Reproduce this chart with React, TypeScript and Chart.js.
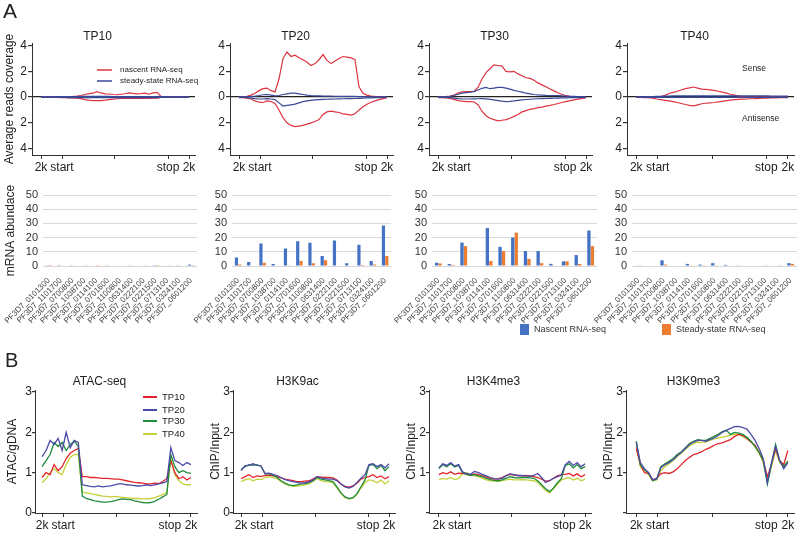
import React, { useEffect, useRef } from 'react';
import { Chart, registerables } from 'chart.js';

Chart.register(...registerables);

const FONT = 'Arial, "Liberation Sans", Helvetica, sans-serif';
Chart.defaults.font.family = FONT;
Chart.defaults.color = '#222';

// ---------------- shared axis values ----------------
const X_POS = [0, 4, 8, 12, 16, 20, 24, 28, 32, 36, 40, 44, 48, 52, 56, 60, 64, 68, 72, 76, 80, 84, 88, 92, 96, 100, 104, 108, 112, 116, 120, 124, 128, 132, 136, 140, 144, 148];
const X_TICKS = [0, 21, 74, 127, 148];
const X_TICK_LABELS = ['2k', 'start', '', 'stop', '2k'];
const COVERAGE_Y_TICKS = [-4, -2, 0, 2, 4];
const CHIP_Y_TICKS = [0, 1, 2, 3];

// ---------------- A: average reads coverage (sense > 0, antisense < 0) ----------------
const TP10_NASCENT_SENSE = [0, 0, 0, 0, 0.01, 0.02, 0.02, 0.03, 0.05, 0.08, 0.12, 0.2, 0.27, 0.3, 0.42, 0.32, 0.25, 0.24, 0.2, 0.18, 0.22, 0.26, 0.32, 0.28, 0.25, 0.27, 0.3, 0.22, 0.32, 0.37, 0.05, 0.01, 0.01, 0, 0, 0, 0, 0];
const TP10_NASCENT_ANTI = [-0.01, -0.01, -0.01, -0.02, -0.03, -0.04, -0.05, -0.06, -0.07, -0.08, -0.12, -0.2, -0.24, -0.27, -0.28, -0.27, -0.24, -0.2, -0.16, -0.13, -0.11, -0.1, -0.1, -0.1, -0.1, -0.1, -0.1, -0.1, -0.09, -0.08, -0.03, -0.02, -0.01, -0.01, -0.01, -0.01, -0.01, -0.01];
const TP10_STEADY_SENSE = [0.02, 0.02, 0.02, 0.02, 0.03, 0.03, 0.03, 0.04, 0.04, 0.04, 0.05, 0.05, 0.05, 0.05, 0.05, 0.05, 0.05, 0.05, 0.04, 0.04, 0.04, 0.04, 0.04, 0.04, 0.04, 0.04, 0.04, 0.04, 0.04, 0.04, 0.03, 0.03, 0.02, 0.02, 0.02, 0.02, 0.02, 0.02];
const TP10_STEADY_ANTI = [-0.02, -0.02, -0.02, -0.02, -0.03, -0.03, -0.03, -0.04, -0.04, -0.04, -0.05, -0.05, -0.05, -0.05, -0.05, -0.05, -0.05, -0.05, -0.04, -0.04, -0.04, -0.04, -0.04, -0.04, -0.04, -0.04, -0.04, -0.04, -0.04, -0.04, -0.03, -0.03, -0.02, -0.02, -0.02, -0.02, -0.02, -0.02];

const TP20_NASCENT_SENSE = [0.02, 0.03, 0.05, 0.15, 0.3, 0.5, 0.65, 0.7, 0.5, 0.4, 1.4, 3.0, 3.5, 3.15, 3.25, 3.05, 2.9, 2.7, 2.45, 2.6, 2.9, 3.3, 2.85, 2.6, 2.8, 3.0, 3.15, 3.1, 3.05, 2.9, 0.8, 0.3, 0.15, 0.08, 0.05, 0.03, 0.02, 0.02];
const TP20_NASCENT_ANTI = [-0.05, -0.05, -0.08, -0.15, -0.3, -0.4, -0.42, -0.3, -0.35, -0.5, -1.0, -1.6, -2.0, -2.2, -2.3, -2.25, -2.2, -2.1, -2.0, -1.9, -1.75, -1.35, -1.15, -1.1, -1.15, -1.2, -1.3, -1.35, -1.4, -1.3, -1.0, -0.75, -0.55, -0.4, -0.3, -0.2, -0.12, -0.05];
const TP20_STEADY_SENSE = [0.02, 0.02, 0.03, 0.05, 0.08, 0.12, 0.18, 0.2, 0.15, 0.1, 0.12, 0.2, 0.25, 0.3, 0.3, 0.25, 0.2, 0.15, 0.12, 0.1, 0.1, 0.08, 0.08, 0.07, 0.06, 0.06, 0.05, 0.05, 0.05, 0.05, 0.04, 0.03, 0.03, 0.02, 0.02, 0.02, 0.02, 0.02];
const TP20_STEADY_ANTI = [-0.03, -0.03, -0.04, -0.08, -0.12, -0.15, -0.15, -0.12, -0.15, -0.2, -0.45, -0.7, -0.65, -0.6, -0.55, -0.45, -0.35, -0.3, -0.25, -0.22, -0.2, -0.18, -0.17, -0.16, -0.15, -0.14, -0.13, -0.12, -0.12, -0.11, -0.1, -0.08, -0.07, -0.06, -0.05, -0.04, -0.03, -0.03];

const TP30_NASCENT_SENSE = [0.02, 0.02, 0.03, 0.08, 0.15, 0.32, 0.4, 0.42, 0.43, 0.45, 0.75, 1.4, 1.9, 2.2, 2.5, 2.45, 2.4, 2.0, 1.95, 2.0, 1.8, 1.65, 1.5, 1.45, 1.3, 1.1, 0.95, 0.8, 0.62, 0.48, 0.33, 0.2, 0.12, 0.06, 0.04, 0.03, 0.02, 0.02];
const TP30_NASCENT_ANTI = [-0.04, -0.05, -0.06, -0.1, -0.18, -0.27, -0.32, -0.35, -0.35, -0.38, -0.6, -1.1, -1.45, -1.65, -1.75, -1.85, -1.8, -1.75, -1.65, -1.5, -1.35, -1.15, -1.05, -0.95, -0.9, -0.82, -0.78, -0.7, -0.65, -0.58, -0.5, -0.42, -0.35, -0.28, -0.22, -0.16, -0.1, -0.06];
const TP30_STEADY_SENSE = [0.01, 0.02, 0.03, 0.06, 0.12, 0.22, 0.3, 0.35, 0.38, 0.42, 0.55, 0.68, 0.75, 0.65, 0.7, 0.75, 0.75, 0.7, 0.62, 0.52, 0.45, 0.38, 0.3, 0.25, 0.2, 0.17, 0.15, 0.13, 0.12, 0.12, 0.11, 0.1, 0.08, 0.06, 0.05, 0.04, 0.03, 0.02];
const TP30_STEADY_ANTI = [-0.02, -0.02, -0.03, -0.05, -0.08, -0.12, -0.15, -0.15, -0.15, -0.14, -0.13, -0.12, -0.14, -0.18, -0.22, -0.27, -0.32, -0.35, -0.33, -0.3, -0.26, -0.22, -0.19, -0.17, -0.15, -0.13, -0.12, -0.11, -0.1, -0.09, -0.08, -0.07, -0.06, -0.05, -0.05, -0.04, -0.03, -0.03];

const TP40_NASCENT_SENSE = [0, 0, 0, 0, 0, 0.01, 0.04, 0.13, 0.28, 0.37, 0.45, 0.55, 0.65, 0.72, 0.78, 0.7, 0.62, 0.6, 0.56, 0.52, 0.45, 0.38, 0.3, 0.22, 0.15, 0.08, 0.04, 0.02, 0.01, 0.01, 0.01, 0.01, 0.01, 0.01, 0.01, 0.01, 0.01, 0.01];
const TP40_NASCENT_ANTI = [-0.03, -0.03, -0.04, -0.05, -0.08, -0.15, -0.2, -0.25, -0.3, -0.36, -0.42, -0.5, -0.58, -0.65, -0.68, -0.6, -0.52, -0.48, -0.45, -0.42, -0.38, -0.33, -0.28, -0.24, -0.2, -0.18, -0.16, -0.15, -0.13, -0.12, -0.1, -0.09, -0.08, -0.07, -0.06, -0.05, -0.04, -0.04];
const TP40_STEADY_SENSE = [0.02, 0.02, 0.02, 0.03, 0.04, 0.05, 0.06, 0.07, 0.08, 0.09, 0.1, 0.1, 0.1, 0.1, 0.1, 0.1, 0.1, 0.1, 0.1, 0.1, 0.1, 0.1, 0.1, 0.1, 0.1, 0.1, 0.1, 0.1, 0.1, 0.1, 0.09, 0.09, 0.09, 0.08, 0.08, 0.08, 0.08, 0.08];
const TP40_STEADY_ANTI = [-0.02, -0.02, -0.02, -0.02, -0.03, -0.03, -0.03, -0.03, -0.03, -0.03, -0.03, -0.03, -0.03, -0.03, -0.03, -0.03, -0.03, -0.03, -0.03, -0.03, -0.03, -0.03, -0.03, -0.03, -0.03, -0.03, -0.03, -0.03, -0.03, -0.03, -0.03, -0.03, -0.03, -0.03, -0.02, -0.02, -0.02, -0.02];

// ---------------- A: mRNA abundance ----------------
const GENES = ['PF3D7_0101300', 'PF3D7_1101700', 'PF3D7_0700800', 'PF3D7_1038700', 'PF3D7_0114100', 'PF3D7_0701600', 'PF3D7_1100800', 'PF3D7_0631400', 'PF3D7_0222100', 'PF3D7_0221500', 'PF3D7_0713100', 'PF3D7_0324100', 'PF3D7_0601200'];
const BAR_TP10_NASCENT = [0.2, 0.1, 0.5, 0.4, 0.3, 0.5, 0.4, 0.5, 0.4, 0.2, 0.4, 0.5, 1.0];
const BAR_TP10_STEADY = [0.1, 0, 0.3, 0.2, 0.1, 0.3, 0.3, 0.3, 0.2, 0.1, 0.2, 0.3, 0.6];
const BAR_TP20_NASCENT = [6, 2.8, 15.8, 1.4, 12.3, 17.4, 16.3, 7, 18, 2, 15, 3.5, 28.6];
const BAR_TP20_STEADY = [1, 0, 2.3, 0, 0.5, 3.5, 2, 4, 0, 0, 0.7, 1, 7];
const BAR_TP30_NASCENT = [2.3, 1.4, 16.5, 0, 26.7, 13.5, 20, 10.5, 10.5, 1.5, 3.3, 7.7, 25];
const BAR_TP30_STEADY = [1.8, 0.8, 14, 0, 3.5, 10.5, 23.5, 5, 2, 0.5, 3.3, 1.4, 14];
const BAR_TP40_NASCENT = [0.4, 0, 4, 0, 1.5, 1, 2, 0.8, 0.5, 0, 0.3, 0.3, 2];
const BAR_TP40_STEADY = [0.2, 0, 1, 0, 0.5, 0.5, 0.5, 0.3, 0.3, 0, 0.2, 0.2, 1.5];
const ABUNDANCE_STEP = 10;

// ---------------- B: chromatin profiles ----------------
const ATAC_TP10 = [0.88, 1.0, 0.95, 1.2, 1.05, 1.15, 1.35, 1.48, 1.55, 1.6, 0.9, 0.9, 0.88, 0.88, 0.87, 0.86, 0.86, 0.85, 0.84, 0.84, 0.82, 0.8, 0.78, 0.76, 0.75, 0.74, 0.72, 0.72, 0.74, 0.73, 0.78, 0.85, 1.3, 1.0, 0.85, 0.9, 0.82, 0.88];
const ATAC_TP20 = [1.4, 1.55, 1.8, 1.7, 1.85, 1.55, 2.0, 1.62, 1.8, 1.75, 0.7, 0.68, 0.66, 0.65, 0.67, 0.65, 0.66, 0.67, 0.7, 0.72, 0.72, 0.7, 0.69, 0.68, 0.67, 0.68, 0.7, 0.68, 0.7, 0.72, 0.75, 0.78, 1.62, 1.3, 1.25, 1.18, 1.25, 1.2];
const ATAC_TP30 = [1.15, 1.3, 1.45, 1.75, 1.65, 1.75, 1.55, 1.7, 1.78, 1.65, 0.42, 0.36, 0.33, 0.3, 0.29, 0.27, 0.27, 0.28, 0.3, 0.33, 0.35, 0.34, 0.33, 0.3, 0.28, 0.26, 0.25, 0.26, 0.29, 0.34, 0.4, 0.46, 1.45, 1.15, 1.0, 1.05, 1.0, 0.98];
const ATAC_TP40 = [0.75, 0.85, 1.0, 1.1, 1.0, 0.95, 1.2, 1.38, 1.45, 1.45, 0.52, 0.5, 0.48, 0.46, 0.44, 0.42, 0.41, 0.4, 0.41, 0.4, 0.39, 0.38, 0.37, 0.36, 0.36, 0.35, 0.35, 0.36, 0.38, 0.42, 0.46, 0.5, 1.35, 0.95, 0.8, 0.72, 0.7, 0.7];

const H3K9AC_TP10 = [0.85, 0.9, 0.95, 0.88, 0.92, 0.9, 0.93, 0.94, 0.92, 0.9, 0.87, 0.84, 0.82, 0.8, 0.78, 0.78, 0.79, 0.8, 0.84, 0.9, 0.89, 0.88, 0.88, 0.87, 0.82, 0.72, 0.66, 0.64, 0.67, 0.74, 0.84, 0.88, 0.9, 0.95, 0.88, 0.92, 0.85, 0.9];
const H3K9AC_TP20 = [1.05, 1.17, 1.18, 1.22, 1.18, 1.17, 0.98, 0.99, 0.96, 0.93, 0.88, 0.83, 0.8, 0.78, 0.76, 0.74, 0.75, 0.77, 0.82, 0.9, 0.87, 0.85, 0.84, 0.84, 0.8, 0.72, 0.65, 0.62, 0.66, 0.76, 0.86, 0.95, 1.2, 1.22, 1.15, 1.2, 1.12, 1.22];
const H3K9AC_TP30 = [1.08, 1.15, 1.2, 1.18, 1.2, 1.16, 0.97, 0.97, 0.94, 0.88, 0.8, 0.74, 0.7, 0.68, 0.7, 0.72, 0.73, 0.75, 0.8, 0.88, 0.84, 0.82, 0.8, 0.78, 0.65, 0.5, 0.4, 0.36, 0.38, 0.48, 0.65, 0.82, 1.18, 1.2, 1.1, 1.18, 1.05, 1.15];
const H3K9AC_TP40 = [0.78, 0.82, 0.85, 0.8, 0.84, 0.83, 0.88, 0.9, 0.88, 0.85, 0.78, 0.72, 0.68, 0.66, 0.67, 0.68, 0.7, 0.72, 0.78, 0.85, 0.8, 0.78, 0.77, 0.75, 0.62, 0.48, 0.38, 0.35, 0.37, 0.46, 0.62, 0.75, 0.82, 0.8, 0.75, 0.82, 0.72, 0.8];

const H3K4ME3_TP10 = [0.95, 1.0, 0.97, 1.02, 0.96, 0.99, 0.98, 0.96, 0.94, 0.97, 0.95, 0.92, 0.89, 0.86, 0.84, 0.85, 0.88, 0.93, 0.96, 0.94, 0.93, 0.92, 0.93, 0.92, 0.9, 0.88, 0.84, 0.79, 0.8, 0.86, 0.92, 0.95, 0.96, 0.98, 0.92, 0.97, 0.9, 0.95];
const H3K4ME3_TP20 = [1.12, 1.22, 1.18, 1.25, 1.16, 1.2, 1.02, 0.98, 0.96, 1.03, 1.0, 0.96, 0.92, 0.88, 0.85, 0.84, 0.86, 0.92, 0.97, 0.95, 0.93, 0.93, 0.92, 0.91, 0.93, 0.98, 0.88, 0.76, 0.8, 0.86, 0.9, 0.94, 1.2, 1.28, 1.18, 1.25, 1.15, 1.22];
const H3K4ME3_TP30 = [1.1, 1.2, 1.15, 1.22, 1.14, 1.18, 1.0, 0.96, 0.93, 0.95, 0.92, 0.9, 0.86, 0.83, 0.81, 0.8, 0.82, 0.86, 0.9, 0.88, 0.87, 0.88, 0.88, 0.87, 0.86, 0.8, 0.7, 0.6, 0.53, 0.62, 0.75, 0.85, 1.18, 1.22, 1.12, 1.2, 1.1, 1.15];
const H3K4ME3_TP40 = [0.82, 0.86, 0.84, 0.88, 0.83, 0.86, 0.98, 1.0, 0.95, 0.92, 0.9, 0.86, 0.82, 0.8, 0.79, 0.78, 0.8, 0.82, 0.84, 0.82, 0.82, 0.83, 0.82, 0.81, 0.8, 0.76, 0.66, 0.56, 0.5, 0.6, 0.72, 0.82, 0.85, 0.88, 0.82, 0.86, 0.8, 0.84];

const H3K9ME3_TP10 = [1.6, 1.2, 1.0, 0.98, 0.82, 0.86, 0.97, 1.0, 0.98, 1.02, 1.1, 1.2, 1.3, 1.38, 1.45, 1.48, 1.52, 1.58, 1.62, 1.68, 1.72, 1.74, 1.78, 1.82, 1.9, 1.95, 1.92, 1.85, 1.76, 1.68, 1.5, 1.3, 0.9, 1.2, 1.6, 1.3, 1.2, 1.55];
const H3K9ME3_TP20 = [1.75, 1.25, 1.1, 1.0, 0.82, 0.85, 1.12, 1.2, 1.25, 1.32, 1.42, 1.5, 1.6, 1.7, 1.76, 1.8, 1.8, 1.78, 1.82, 1.86, 1.92, 2.0, 2.05, 2.1, 2.14, 2.15, 2.12, 2.08, 1.95, 1.8, 1.6, 1.35, 0.75, 1.25, 1.65, 1.3, 1.1, 1.25];
const H3K9ME3_TP30 = [1.78, 1.2, 1.08, 1.0, 0.8, 0.84, 1.15, 1.22, 1.28, 1.35, 1.45, 1.52, 1.62, 1.72, 1.78, 1.82, 1.8, 1.8, 1.85, 1.9, 1.95, 2.02, 2.05, 1.95, 2.0, 1.98, 1.95, 1.88, 1.78, 1.65, 1.5, 1.3, 0.72, 1.2, 1.7, 1.3, 1.15, 1.28];
const H3K9ME3_TP40 = [1.7, 1.15, 1.05, 0.95, 0.8, 0.82, 1.05, 1.15, 1.22, 1.3, 1.4, 1.48, 1.58, 1.66, 1.72, 1.76, 1.75, 1.76, 1.8, 1.84, 1.86, 1.88, 1.9, 1.93, 1.95, 1.95, 1.9, 1.84, 1.76, 1.64, 1.48, 1.25, 0.8, 1.15, 1.55, 1.25, 1.15, 1.3];

// ---------------- colours ----------------
const NASCENT_RED = '#dc3440';
const STEADY_NAVY = '#3a4898';
const BAR_BLUE = '#4472c4';
const BAR_ORANGE = '#ed7d31';
const C_TP10 = '#e3262d';
const C_TP20 = '#4b4aa6';
const C_TP30 = '#1f8b3c';
const C_TP40 = '#c4d13a';

// ---------------- helpers ----------------
type Note =
  | { kind: 'text'; text: string; x: number; y: number; size: number; color?: string; baseline?: string }
  | { kind: 'line'; x1: number; x2: number; y: number; color: string; width: number }
  | { kind: 'rect'; x: number; y: number; w: number; h: number; color: string };

function notesPlugin(notes: Note[], ox: number, oy: number) {
  return {
    id: 'notes',
    afterDraw(chart: any) {
      const ctx = chart.ctx;
      ctx.save();
      for (const n of notes) {
        if (n.kind === 'text') {
          ctx.font = `${n.size}px ${FONT}`;
          ctx.fillStyle = n.color || '#222';
          ctx.textAlign = 'left';
          ctx.textBaseline = n.baseline || 'middle';
          ctx.fillText(n.text, n.x - ox, n.y - oy);
        } else if (n.kind === 'line') {
          ctx.strokeStyle = n.color;
          ctx.lineWidth = n.width;
          ctx.beginPath();
          ctx.moveTo(n.x1 - ox, n.y - oy);
          ctx.lineTo(n.x2 - ox, n.y - oy);
          ctx.stroke();
        } else {
          ctx.fillStyle = n.color;
          ctx.fillRect(n.x - ox, n.y - oy, n.w, n.h);
        }
      }
      ctx.restore();
    },
  };
}

type Series = { values: number[]; color: string; width: number; order: number };

type ProfileOpts = {
  left: number; top: number; width: number; height: number;
  title: string; titleTop: number; titleBottom: number;
  yTitle?: string; yTitlePad?: number; yAxisW: number; xAxisH: number; padRight: number;
  yTickLen: number; yTickPad: number;
  yMin: number; yMax: number; yTicks: number[]; absLabels?: boolean; hideZero?: boolean; zeroLine?: boolean;
  xMin: number; xMax: number; series: Series[]; notes: Note[];
};

function profileConfig(o: ProfileOpts): any {
  const datasets = o.series.map((s) => ({
    data: X_POS.map((x, i) => ({ x, y: s.values[i] })),
    borderColor: s.color,
    borderWidth: s.width,
    pointRadius: 0,
    fill: false,
    tension: 0,
    order: s.order,
  }));
  return {
    type: 'line',
    data: { datasets },
    options: {
      responsive: false,
      animation: false,
      events: [],
      layout: { padding: { left: 0, right: o.padRight, top: 0, bottom: 0 } },
      plugins: {
        legend: { display: false },
        tooltip: { enabled: false },
        title: {
          display: true,
          text: o.title,
          color: '#222',
          font: { size: 12, weight: 'normal', lineHeight: 1 },
          padding: { top: o.titleTop, bottom: o.titleBottom },
        },
      },
      scales: {
        x: {
          type: 'linear',
          min: o.xMin,
          max: o.xMax,
          afterBuildTicks: (axis: any) => { axis.ticks = X_TICKS.map((v) => ({ value: v })); },
          afterFit: (axis: any) => { axis.height = o.xAxisH; },
          ticks: {
            autoSkip: false, maxRotation: 0, minRotation: 0, padding: 1, color: '#222',
            font: { size: 12 },
            callback: (_v: any, i: number) => X_TICK_LABELS[i],
          },
          grid: { drawOnChartArea: false, drawTicks: true, tickLength: 4, tickColor: '#333' },
          border: { display: true, color: '#333', width: 1 },
        },
        y: {
          min: o.yMin,
          max: o.yMax,
          afterBuildTicks: (axis: any) => { axis.ticks = o.yTicks.map((v) => ({ value: v })); },
          afterFit: (axis: any) => { axis.width = o.yAxisW; },
          ticks: {
            autoSkip: false,
            padding: o.yTickPad, color: '#222', font: { size: 12 },
            callback: (v: any) => (o.absLabels ? String(Math.abs(v)) : o.hideZero && v === 0 ? '' : String(v)),
          },
          grid: {
            drawOnChartArea: !!o.zeroLine,
            drawTicks: true,
            tickLength: o.yTickLen,
            tickColor: '#333',
            lineWidth: 1.2,
            color: (ctx: any) => (o.zeroLine && ctx.tick && ctx.tick.value === 0 ? '#222' : 'rgba(0,0,0,0)'),
          },
          border: { display: true, color: '#333', width: 1 },
          title: o.yTitle
            ? { display: true, text: o.yTitle, color: '#222', font: { size: 12 }, padding: { top: o.yTitlePad || 2, bottom: 0 } }
            : { display: false },
        },
      },
    },
    plugins: [notesPlugin(o.notes, o.left, o.top)],
  };
}

type BarOpts = {
  left: number; top: number; width: number; height: number;
  yAxisW: number; padRight: number; yTitle?: string;
  nascent: number[]; steady: number[]; notes: Note[];
};

function barConfig(o: BarOpts): any {
  return {
    type: 'bar',
    data: {
      labels: GENES,
      datasets: [
        { label: 'Nascent RNA-seq', data: o.nascent, backgroundColor: BAR_BLUE, barPercentage: 0.95, categoryPercentage: 0.55 },
        { label: 'Steady-state RNA-seq', data: o.steady, backgroundColor: BAR_ORANGE, barPercentage: 0.95, categoryPercentage: 0.55 },
      ],
    },
    options: {
      responsive: false,
      animation: false,
      events: [],
      layout: { padding: { left: 0, right: o.padRight, top: 15, bottom: 0 } },
      plugins: { legend: { display: false }, tooltip: { enabled: false }, title: { display: false } },
      scales: {
        x: {
          afterFit: (axis: any) => { axis.height = 74; },
          ticks: { autoSkip: false, minRotation: 45, maxRotation: 45, padding: 2, color: '#444', font: { size: 8 } },
          grid: { display: false },
          border: { display: false },
        },
        y: {
          min: 0,
          max: 50,
          afterFit: (axis: any) => { axis.width = o.yAxisW; },
          ticks: { stepSize: ABUNDANCE_STEP, autoSkip: false, padding: 5, color: '#333', font: { size: 11 } },
          grid: { color: '#d9d9d9', drawTicks: false, lineWidth: 1 },
          border: { display: false },
          title: o.yTitle
            ? { display: true, text: o.yTitle, color: '#222', font: { size: 12 }, padding: { top: 3, bottom: 0 } }
            : { display: false },
        },
      },
    },
    plugins: [notesPlugin(o.notes, o.left, o.top)],
  };
}

function ChartCanvas({ box, make }: { box: { left: number; top: number; width: number; height: number }; make: () => any }) {
  const ref = useRef<HTMLCanvasElement>(null);
  useEffect(() => {
    const chart = new Chart(ref.current as HTMLCanvasElement, make());
    return () => chart.destroy();
  }, []);
  return (
    <canvas
      ref={ref}
      width={box.width}
      height={box.height}
      style={{ position: 'absolute', left: box.left, top: box.top, width: box.width, height: box.height }}
    />
  );
}

// ---------------- panel definitions ----------------
const coverageSeries = (ns: number[], na: number[], ss: number[], sa: number[]): Series[] => [
  { values: ss, color: STEADY_NAVY, width: 1.2, order: 1 },
  { values: sa, color: STEADY_NAVY, width: 1.2, order: 1 },
  { values: ns, color: NASCENT_RED, width: 1.2, order: 2 },
  { values: na, color: NASCENT_RED, width: 1.2, order: 2 },
];

const chipSeries = (a: number[], b: number[], c: number[], d: number[]): Series[] => [
  { values: b, color: C_TP20, width: 1.3, order: 1 },
  { values: c, color: C_TP30, width: 1.3, order: 2 },
  { values: a, color: C_TP10, width: 1.3, order: 3 },
  { values: d, color: C_TP40, width: 1.3, order: 4 },
];

const COV_COMMON = {
  top: 0, height: 184, width: 201, titleTop: 31, titleBottom: 0, yAxisW: 32, xAxisH: 29, padRight: 6,
  yTickLen: 4, yTickPad: 1,
  yMin: -4.5, yMax: 4.2, yTicks: COVERAGE_Y_TICKS, absLabels: true, zeroLine: true, xMin: -9, xMax: 154,
};

const CHIP_COMMON = {
  top: 340, height: 193, width: 201, titleTop: 36, titleBottom: 2, yAxisW: 33, xAxisH: 20, padRight: 6,
  yTickLen: 3, yTickPad: 0,
  yMin: 0, yMax: 3.05, yTicks: CHIP_Y_TICKS, xMin: -8, xMax: 154,
};

const PROFILE_PANELS: ProfileOpts[] = [
  {
    ...COV_COMMON, left: 0, title: 'TP10', yTitle: 'Average reads coverage', yTitlePad: 2,
    series: coverageSeries(TP10_NASCENT_SENSE, TP10_NASCENT_ANTI, TP10_STEADY_SENSE, TP10_STEADY_ANTI),
    notes: [
      { kind: 'text', text: 'A', x: 3, y: 18, size: 21, baseline: 'alphabetic' },
      { kind: 'line', x1: 97, x2: 112, y: 70, color: NASCENT_RED, width: 1.5 },
      { kind: 'text', text: 'nascent RNA-seq', x: 120, y: 70, size: 8 },
      { kind: 'line', x1: 97, x2: 112, y: 81, color: STEADY_NAVY, width: 1.5 },
      { kind: 'text', text: 'steady-state RNA-seq', x: 120, y: 81, size: 8 },
    ],
  },
  {
    ...COV_COMMON, left: 198, title: 'TP20',
    series: coverageSeries(TP20_NASCENT_SENSE, TP20_NASCENT_ANTI, TP20_STEADY_SENSE, TP20_STEADY_ANTI), notes: [],
  },
  {
    ...COV_COMMON, left: 397, title: 'TP30',
    series: coverageSeries(TP30_NASCENT_SENSE, TP30_NASCENT_ANTI, TP30_STEADY_SENSE, TP30_STEADY_ANTI), notes: [],
  },
  {
    ...COV_COMMON, left: 595, width: 205, title: 'TP40',
    series: coverageSeries(TP40_NASCENT_SENSE, TP40_NASCENT_ANTI, TP40_STEADY_SENSE, TP40_STEADY_ANTI),
    notes: [
      { kind: 'text', text: 'Sense', x: 742, y: 69, size: 8.5 },
      { kind: 'text', text: 'Antisense', x: 742, y: 119, size: 8.5 },
    ],
  },
  {
    ...CHIP_COMMON, left: 2, xMin: -7, title: 'ATAC-seq', yTitle: 'ATAC/gDNA', yTitlePad: 3,
    series: chipSeries(ATAC_TP10, ATAC_TP20, ATAC_TP30, ATAC_TP40),
    notes: [
      { kind: 'text', text: 'B', x: 5, y: 367, size: 20, baseline: 'alphabetic' },
      { kind: 'line', x1: 143, x2: 157, y: 397, color: C_TP10, width: 2 },
      { kind: 'text', text: 'TP10', x: 162, y: 397, size: 9.5 },
      { kind: 'line', x1: 143, x2: 157, y: 410, color: C_TP20, width: 2 },
      { kind: 'text', text: 'TP20', x: 162, y: 410, size: 9.5 },
      { kind: 'line', x1: 143, x2: 157, y: 421, color: C_TP30, width: 2 },
      { kind: 'text', text: 'TP30', x: 162, y: 421, size: 9.5 },
      { kind: 'line', x1: 143, x2: 157, y: 434, color: C_TP40, width: 2 },
      { kind: 'text', text: 'TP40', x: 162, y: 434, size: 9.5 },
    ],
  },
  {
    ...CHIP_COMMON, left: 200, title: 'H3K9ac', yTitle: 'ChIP/Input', yTitlePad: 8,
    series: chipSeries(H3K9AC_TP10, H3K9AC_TP20, H3K9AC_TP30, H3K9AC_TP40), notes: [],
  },
  {
    ...CHIP_COMMON, left: 396, xMin: -10, title: 'H3K4me3', yTitle: 'ChIP/Input', yTitlePad: 8, hideZero: true,
    series: chipSeries(H3K4ME3_TP10, H3K4ME3_TP20, H3K4ME3_TP30, H3K4ME3_TP40), notes: [],
  },
  {
    ...CHIP_COMMON, left: 593, xMin: -10, width: 207, title: 'H3K9me3', yTitle: 'ChIP/Input', yTitlePad: 8, hideZero: true,
    series: chipSeries(H3K9ME3_TP10, H3K9ME3_TP20, H3K9ME3_TP30, H3K9ME3_TP40), notes: [],
  },
];

const BAR_PANELS: BarOpts[] = [
  { left: 0, top: 180, width: 200, height: 160, yAxisW: 43, padRight: 2, yTitle: 'mRNA abundace', nascent: BAR_TP10_NASCENT, steady: BAR_TP10_STEADY, notes: [] },
  { left: 187, top: 180, width: 207, height: 160, yAxisW: 45, padRight: 2, nascent: BAR_TP20_NASCENT, steady: BAR_TP20_STEADY, notes: [] },
  {
    left: 387, top: 180, width: 413, height: 160, yAxisW: 45, padRight: 203, nascent: BAR_TP30_NASCENT, steady: BAR_TP30_STEADY,
    notes: [
      { kind: 'rect', x: 520, y: 324, w: 9, h: 11, color: BAR_BLUE },
      { kind: 'text', text: 'Nascent RNA-seq', x: 534, y: 330, size: 9, color: '#333' },
      { kind: 'rect', x: 662, y: 324, w: 9, h: 11, color: BAR_ORANGE },
      { kind: 'text', text: 'Steady-state RNA-seq', x: 676, y: 330, size: 9, color: '#333' },
    ],
  },
  { left: 587, top: 180, width: 213, height: 160, yAxisW: 45, padRight: 3, nascent: BAR_TP40_NASCENT, steady: BAR_TP40_STEADY, notes: [] },
];

export default function App() {
  return (
    <div style={{ position: 'absolute', left: 0, top: 0, width: 800, height: 533, background: '#fff', overflow: 'hidden' }}>
      {PROFILE_PANELS.map((p, i) => (
        <ChartCanvas key={'p' + i} box={p} make={() => profileConfig(p)} />
      ))}
      {BAR_PANELS.map((p, i) => (
        <ChartCanvas key={'b' + i} box={p} make={() => barConfig(p)} />
      ))}
    </div>
  );
}
